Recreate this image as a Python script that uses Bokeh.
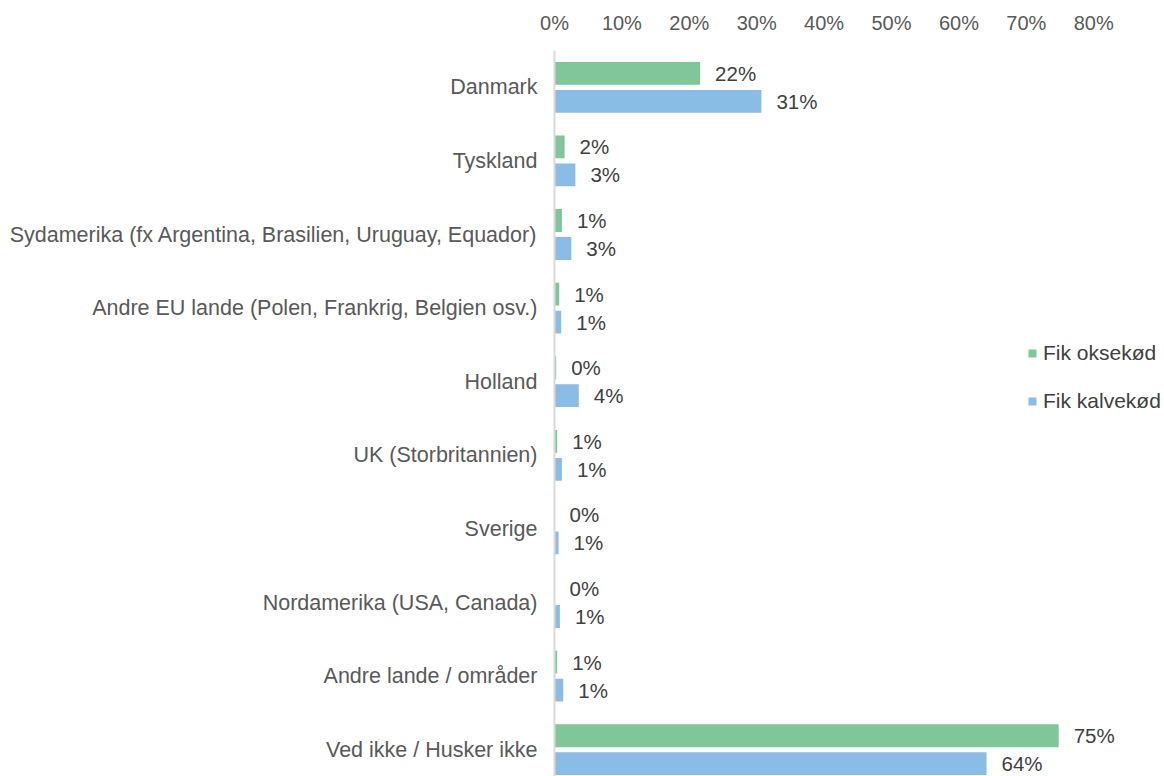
from bokeh.plotting import figure
from bokeh.models import ColumnDataSource, Range1d, FixedTicker, Legend, LegendItem, NumeralTickFormatter
from bokeh.core.properties import value
from bokeh.embed import file_html
from bokeh.resources import INLINE

categories = [
    "Danmark",
    "Tyskland",
    "Sydamerika (fx Argentina, Brasilien, Uruguay, Equador)",
    "Andre EU lande (Polen, Frankrig, Belgien osv.)",
    "Holland",
    "UK (Storbritannien)",
    "Sverige",
    "Nordamerika (USA, Canada)",
    "Andre lande / områder",
    "Ved ikke / Husker ikke",
]
okse = [21.6, 1.5, 1.1, 0.7, 0.25, 0.4, 0.0, 0.0, 0.4, 74.8]
kalve = [30.7, 3.1, 2.5, 1.0, 3.6, 1.1, 0.6, 0.8, 1.3, 64.1]
okse_labels = ["22%", "2%", "1%", "1%", "0%", "1%", "0%", "0%", "1%", "75%"]
kalve_labels = ["31%", "3%", "3%", "1%", "4%", "1%", "1%", "1%", "1%", "64%"]
series_names = ["Fik oksekød", "Fik kalvekød"]
x_ticks = [0, 10, 20, 30, 40, 50, 60, 70, 80]

GREEN = "#7fc699"
BLUE = "#8abde6"
FONT = "Liberation Sans"

idx = list(range(len(categories)))
off = 0.19
h = 0.31

p = figure(width=1164, height=776, output_backend="svg", toolbar_location=None,
           x_range=Range1d(0, 90.5), y_range=Range1d(9.364, -0.5),
           x_axis_location="above",
           min_border_left=554, min_border_right=0, min_border_top=50, min_border_bottom=0)
p.outline_line_color = None
p.grid.visible = False
p.background_fill_color = "white"
p.border_fill_color = "white"

src_o = ColumnDataSource(dict(y=[i - off for i in idx], x=okse, lab=okse_labels))
src_k = ColumnDataSource(dict(y=[i + off for i in idx], x=kalve, lab=kalve_labels))

r_o = p.hbar(y="y", right="x", left=0, height=h, source=src_o, fill_color=GREEN, line_color=None)
r_k = p.hbar(y="y", right="x", left=0, height=h, source=src_k, fill_color=BLUE, line_color=None)

for s in (src_o, src_k):
    p.text(x="x", y="y", text="lab", source=s, x_offset=15, text_baseline="middle",
           text_align="left", text_font=value(FONT), text_font_size="20.5px", text_color="#404040")

xa = p.xaxis[0]
xa.ticker = FixedTicker(ticks=x_ticks)
xa.formatter = NumeralTickFormatter(format="0")
xa.major_label_overrides = {t: f"{t}%" for t in x_ticks}
xa.axis_line_color = None
xa.major_tick_line_color = None
xa.minor_tick_line_color = None
xa.major_tick_out = 0
xa.major_tick_in = 0
xa.major_label_text_font = FONT
xa.major_label_text_font_size = "20px"
xa.major_label_text_color = "#595959"
xa.major_label_standoff = 17

ya = p.yaxis[0]
ya.ticker = FixedTicker(ticks=idx)
ya.major_label_overrides = {i: c for i, c in zip(idx, categories)}
ya.axis_line_color = "#d9d9d9"
ya.axis_line_width = 2
ya.major_tick_line_color = None
ya.minor_tick_line_color = None
ya.major_tick_out = 0
ya.major_tick_in = 0
ya.major_label_text_font = FONT
ya.major_label_text_font_size = "21.5px"
ya.major_label_text_color = "#595959"
ya.major_label_standoff = 17

legend = Legend(items=[LegendItem(label=series_names[0], renderers=[r_o]),
                       LegendItem(label=series_names[1], renderers=[r_k])],
                location=(473, 363), orientation="vertical",
                glyph_width=10, glyph_height=10, label_standoff=6, spacing=24,
                padding=0, margin=0, border_line_color=None, background_fill_alpha=0,
                label_text_font=FONT, label_text_font_size="21px", label_text_color="#404040")
p.add_layout(legend, "center")

open("out.html", "w").write(file_html(p, INLINE))
